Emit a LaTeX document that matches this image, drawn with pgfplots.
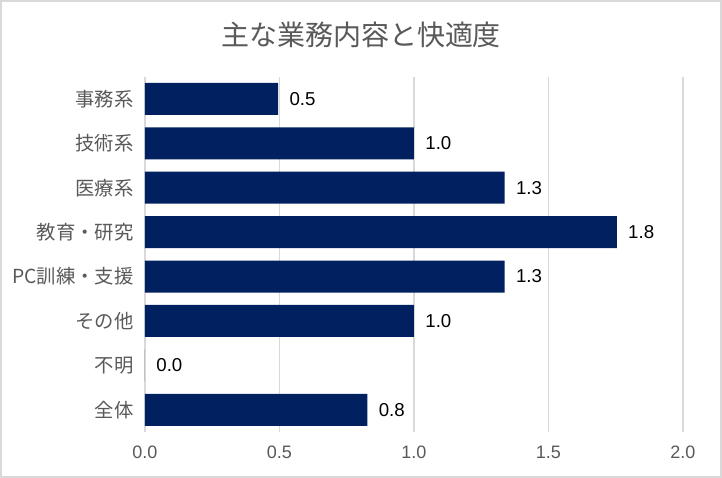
\documentclass[border=0pt]{standalone}
\usepackage{pgfplots}
\pgfplotsset{compat=1.18}
\usepackage{fontspec}
\setmainfont{Liberation Sans}
\newfontfamily\jp{Noto Sans CJK JP}
\definecolor{barc}{HTML}{002060}
\definecolor{txt}{HTML}{595959}
\definecolor{gridc}{HTML}{D9D9D9}
\begin{document}
\begin{tikzpicture}
\useasboundingbox (0,0) rectangle (541.5pt,358.5pt);
\draw[gridc, line width=1.5pt] (0.75pt,0.75pt) rectangle (540.75pt,357.75pt);
\node[txt, font=\jp\fontsize{21}{25}\selectfont] at (270.75pt,332.5pt) {主な業務内容と快適度};
\begin{axis}[
  at={(108.75pt,34.5pt)}, anchor=south west,
  scale only axis, width=403.5pt, height=266.5pt,
  xbar, bar width=0.72,
  xmin=0, xmax=2, ymin=-0.5, ymax=7.5, y dir=reverse,
  xtick={0,0.5,1,1.5,2},
  xmajorgrids, grid style={gridc, line width=1pt},
  axis line style={draw=none}, major tick length=0pt,
  /pgf/number format/assume math mode=true,
  xticklabel style={txt, font=\fontsize{13.5}{16}\selectfont, yshift=-7pt,
    /pgf/number format/.cd, fixed, fixed zerofill, precision=1},
  ytick={0,1,2,3,4,5,6,7},
  yticklabels={事務系,技術系,医療系,教育・研究,PC訓練・支援,その他,不明,全体},
  yticklabel style={txt, font=\jp\fontsize{14.5}{17}\selectfont, xshift=-5pt},
  nodes near coords={\pgfmathprintnumber[fixed,fixed zerofill,precision=1]{\pgfplotspointmeta}},
  point meta=x,
  nodes near coords style={black, font=\fontsize{14}{17}\selectfont, anchor=west, xshift=5pt},
]
\addplot[fill=barc, draw=none] coordinates {
  (0.495,0) (1.0,1) (1.337,2) (1.754,3) (1.337,4) (1.0,5) (0,6) (0.827,7)
};
\end{axis}
\end{tikzpicture}
\end{document}
